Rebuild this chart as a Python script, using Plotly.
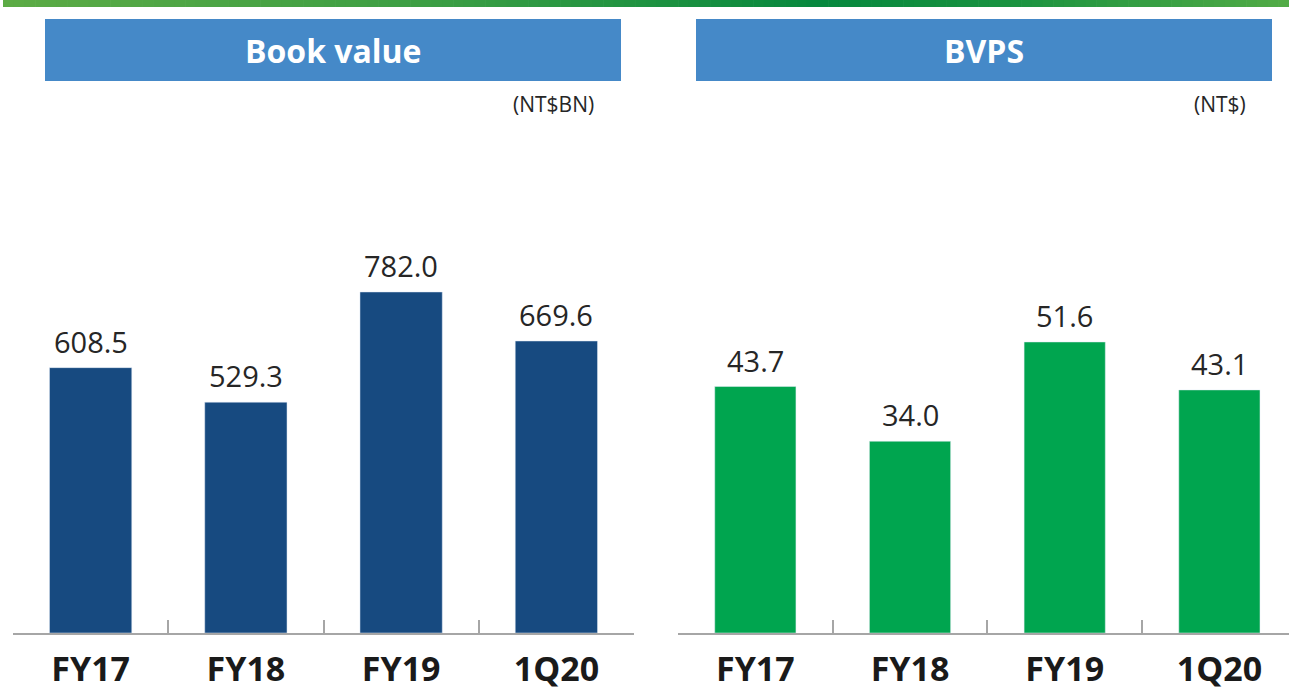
import plotly.graph_objects as go

W, H = 1289, 691

categories = ["FY17", "FY18", "FY19", "1Q20"]
book_value = [608.5, 529.3, 782.0, 669.6]
bvps = [43.7, 34.0, 51.6, 43.1]
titles = ["Book value", "BVPS"]
units = ["(NT$BN)", "(NT$)"]

NAVY = "#174a80"
GREEN = "#00a54f"
HEADER = "#4589c8"
AXIS = "#a6a6a6"
TXT = "#262626"
FONT = "Open Sans"


def px(x):
    return x / W


def py(y):
    return 1 - y / H


fig = go.Figure()

fig.add_trace(go.Bar(
    x=categories, y=book_value, marker_color=NAVY, width=0.53,
    xaxis="x", yaxis="y", showlegend=False, hoverinfo="skip",
))
fig.add_trace(go.Bar(
    x=categories, y=bvps, marker_color=GREEN, width=0.525,
    xaxis="x2", yaxis="y2", showlegend=False, hoverinfo="skip",
))

plot_top, plot_bot = 120, 633
ydom = [py(plot_bot), py(plot_top)]
h = plot_bot - plot_top

xcommon = dict(
    type="category", showgrid=False, zeroline=False, automargin=False,
    showline=True, linecolor=AXIS, linewidth=1.5,
    ticks="inside", ticklen=13, tickcolor=AXIS, tickwidth=1.5,
    tickson="boundaries", ticklabelstandoff=5,
    tickfont=dict(family=FONT, size=34, color="#1a1a1a", weight="bold"),
    fixedrange=True,
)
ycommon = dict(visible=False, showgrid=False, zeroline=False, fixedrange=True, automargin=False)

fig.update_layout(
    width=W, height=H,
    margin=dict(l=0, r=0, t=0, b=0, autoexpand=False),
    paper_bgcolor="white", plot_bgcolor="white",
    xaxis=dict(domain=[px(13), px(634)], range=[-0.5, 3.5], anchor="y", **xcommon),
    yaxis=dict(domain=ydom, range=[0, h / 0.4361], anchor="x", **ycommon),
    xaxis2=dict(domain=[px(678), 1.0], range=[-0.5, 3.45], anchor="y2", **xcommon),
    yaxis2=dict(domain=ydom, range=[0, h / 5.64], anchor="x2", **ycommon),
)

shapes = []
# top gradient band
stops = [(3, (0x5c, 0xab, 0x45)), (450, (0x3a, 0x9e, 0x44)), (820, (0x06, 0x88, 0x3e)),
         (1000, (0x18, 0x92, 0x40)), (1289, (0x52, 0xab, 0x46))]
N = 120
x0g, x1g = 3, 1289
for i in range(N):
    a = x0g + (x1g - x0g) * i / N
    b = x0g + (x1g - x0g) * (i + 1) / N
    m = (a + b) / 2
    for j in range(len(stops) - 1):
        if stops[j][0] <= m <= stops[j + 1][0]:
            t = (m - stops[j][0]) / (stops[j + 1][0] - stops[j][0])
            c = [round(stops[j][1][k] + t * (stops[j + 1][1][k] - stops[j][1][k])) for k in range(3)]
            break
    col = "rgb(%d,%d,%d)" % tuple(c)
    shapes.append(dict(type="rect", xref="paper", yref="paper", x0=px(a), x1=px(b) + 0.0005,
                       y0=py(7), y1=py(0), fillcolor=col, line=dict(width=0), layer="above"))

# header boxes
boxes = [(45, 621), (696, 1272)]
for (a, b) in boxes:
    shapes.append(dict(type="rect", xref="paper", yref="paper", x0=px(a), x1=px(b),
                       y0=py(81), y1=py(19), fillcolor=HEADER, line=dict(width=0)))
fig.update_layout(shapes=shapes)

annotations = []
for (a, b), t in zip(boxes, titles):
    annotations.append(dict(text=t, xref="paper", yref="paper", x=px((a + b) / 2), y=py(50),
                            xanchor="center", yanchor="middle", showarrow=False,
                            font=dict(family=FONT, size=32, color="white", weight="bold")))
for xr, u in zip([596, 1248], units):
    annotations.append(dict(text=u, xref="paper", yref="paper", x=px(xr), y=py(104),
                            xanchor="right", yanchor="middle", showarrow=False,
                            font=dict(family=FONT, size=21, color=TXT)))
# value labels above bars
for xa, ya, vals in [("x", "y", book_value), ("x2", "y2", bvps)]:
    for c, v in zip(categories, vals):
        annotations.append(dict(text=f"{v:.1f}", xref=xa, yref=ya, x=c, y=v,
                                xanchor="center", yanchor="bottom", yshift=5, showarrow=False,
                                font=dict(family=FONT, size=29, color=TXT)))
fig.update_layout(annotations=annotations)

fig.write_html("out.html", config={"displayModeBar": False},
               post_script="document.body.style.margin='0';document.body.style.overflow='hidden';")
